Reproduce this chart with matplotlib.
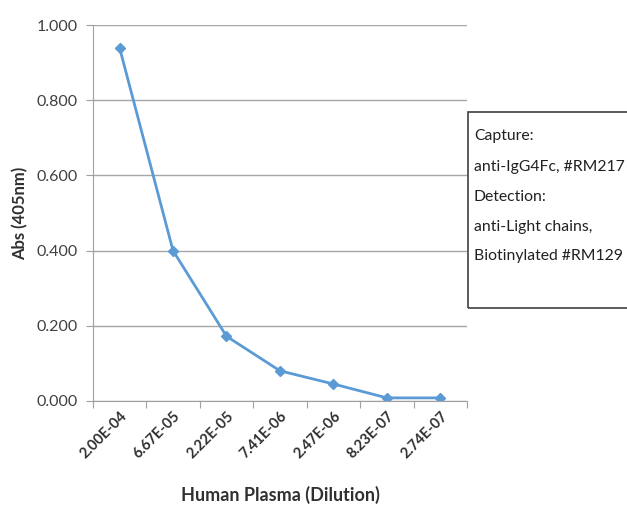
import matplotlib.pyplot as plt
from matplotlib.patches import Rectangle

# ==== Data ====
dilutions = ["2.00E-04", "6.67E-05", "2.22E-05", "7.41E-06",
             "2.47E-06", "8.23E-07", "2.74E-07"]
absorbance = [0.940, 0.400, 0.172, 0.080, 0.045, 0.008, 0.008]
y_ticks = [0.0, 0.2, 0.4, 0.6, 0.8, 1.0]
legend_lines = ["Capture:", "anti-IgG4Fc, #RM217", "Detection:",
                "anti-Light chains,", "Biotinylated #RM129"]

plt.rcParams['font.family'] = ['Lato', 'DejaVu Sans']

fig = plt.figure(figsize=(6.27, 5.12), dpi=100)
ax = fig.add_axes([0.148, 0.217, 0.597, 0.734])

x = list(range(len(dilutions)))
ax.plot(x, absorbance, color='#5b9bd5', lw=2, marker='D', ms=5,
        markerfacecolor='#5b9bd5', markeredgecolor='#5b9bd5')

ax.set_xlim(-0.5, len(dilutions) - 0.5)
ax.set_ylim(0, 1.0)
ax.set_yticks(y_ticks)
ax.set_yticklabels([f"{v:.3f}" for v in y_ticks], fontsize=11.5, color='#404040')

# Excel-style category ticks at boundaries
ax.set_xticks([i - 0.5 for i in range(len(dilutions) + 1)])
ax.set_xticklabels([])
ax.set_xticks(x, minor=True)
ax.set_xticklabels(dilutions, minor=True, rotation=45, ha='right',
                   rotation_mode='anchor', fontsize=10.5, fontweight='bold',
                   color='#303030')
ax.tick_params(axis='x', which='minor', length=0, pad=6)
ax.tick_params(axis='x', which='major', length=5, color='#a0a0a0')
ax.tick_params(axis='y', length=5, color='#a0a0a0', pad=6)

ax.grid(axis='y', color='#a6a6a6', lw=1)
ax.set_axisbelow(True)
for side in ['top', 'right']:
    ax.spines[side].set_visible(False)
for side in ['left', 'bottom']:
    ax.spines[side].set_color('#a0a0a0')

ax.set_ylabel("Abs (405nm)", fontsize=12, fontweight='bold', color='#303030',
              labelpad=6)
ax.set_xlabel("Human Plasma (Dilution)", fontsize=13, fontweight='bold',
              color='#303030', labelpad=18)

# ==== Annotation box ====
fig.patches.append(Rectangle((468 / 627, 1 - 308 / 512), 200 / 627, 196 / 512,
                             transform=fig.transFigure, fill=False,
                             edgecolor='#404040', lw=1.2))
line_y = [136, 167, 197, 227, 256]
for text, yy in zip(legend_lines, line_y):
    fig.text(474 / 627, 1 - yy / 512, text, fontsize=11.3, color='#202020',
             va='center', ha='left')

fig.savefig("out.png", dpi=100)
